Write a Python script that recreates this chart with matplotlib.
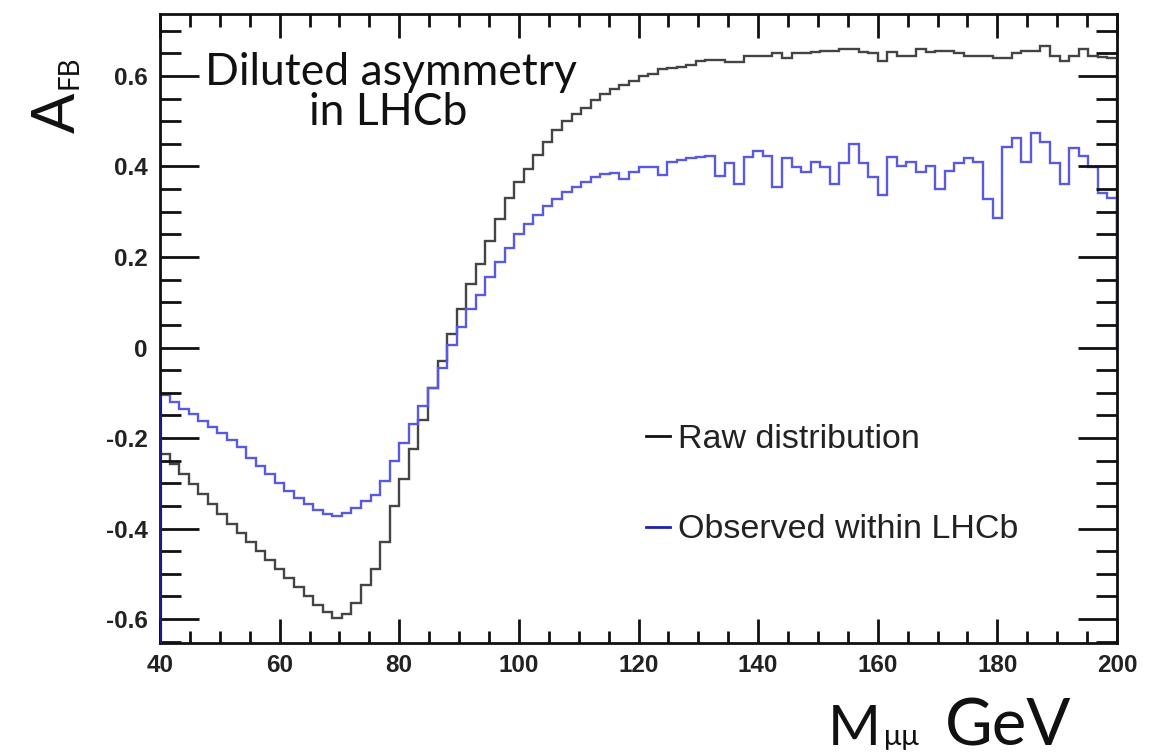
import numpy as np
import matplotlib
matplotlib.use("Agg")
import matplotlib.pyplot as plt
from matplotlib.ticker import MultipleLocator

# 100 bins of 1.6 GeV between 40 and 200 GeV
edges = np.linspace(40, 200, 101)

raw = [-0.235, -0.258, -0.280, -0.302, -0.324, -0.346, -0.368, -0.390, -0.410, -0.430,
       -0.450, -0.470, -0.490, -0.510, -0.530, -0.550, -0.568, -0.585, -0.597, -0.590,
       -0.565, -0.525, -0.490, -0.430, -0.350, -0.290, -0.225, -0.160, -0.090, -0.030,
       0.030, 0.085, 0.140, 0.185, 0.235, 0.285, 0.330, 0.365, 0.395, 0.425,
       0.455, 0.480, 0.500, 0.515, 0.530, 0.548, 0.560, 0.572, 0.580, 0.590,
       0.600, 0.605, 0.615, 0.617, 0.619, 0.625, 0.634, 0.636, 0.636, 0.632,
       0.632, 0.645, 0.645, 0.645, 0.650, 0.639, 0.650, 0.650, 0.652, 0.655,
       0.656, 0.660, 0.660, 0.652, 0.650, 0.634, 0.652, 0.645, 0.645, 0.660,
       0.652, 0.656, 0.656, 0.650, 0.645, 0.645, 0.645, 0.639, 0.639, 0.650,
       0.656, 0.656, 0.667, 0.645, 0.634, 0.645, 0.660, 0.645, 0.641, 0.639]

observed = [-0.106, -0.120, -0.135, -0.148, -0.162, -0.176, -0.190, -0.205, -0.220, -0.245,
            -0.262, -0.280, -0.300, -0.318, -0.332, -0.345, -0.358, -0.367, -0.372, -0.365,
            -0.355, -0.340, -0.325, -0.295, -0.250, -0.210, -0.170, -0.130, -0.090, -0.045,
            0.005, 0.045, 0.085, 0.115, 0.155, 0.190, 0.220, 0.250, 0.272, 0.293,
            0.312, 0.328, 0.343, 0.354, 0.365, 0.376, 0.384, 0.386, 0.373, 0.387,
            0.398, 0.398, 0.382, 0.409, 0.415, 0.418, 0.420, 0.424, 0.380, 0.407,
            0.362, 0.420, 0.435, 0.424, 0.354, 0.418, 0.398, 0.387, 0.409, 0.398,
            0.362, 0.407, 0.450, 0.407, 0.376, 0.336, 0.420, 0.402, 0.409, 0.387,
            0.402, 0.351, 0.391, 0.407, 0.418, 0.409, 0.329, 0.287, 0.442, 0.464,
            0.409, 0.473, 0.455, 0.407, 0.362, 0.440, 0.424, 0.398, 0.342, 0.331]

labels = ["Raw distribution", "Observed within LHCb"]

W, H = 1165, 756
fig = plt.figure(figsize=(W / 100, H / 100), dpi=100)
ax = fig.add_axes([160 / W, 1 - 643 / H, (1117 - 160) / W, (643 - 14) / H])

ylo, yhi = -0.653, 0.737
ax.stairs(raw, edges, color="#444444", lw=1.7, label=labels[0])
ax.stairs(observed, edges, color="#5a5ae0", lw=1.7, label=labels[1])
# left edge of the histogram goes down to the frame
ax.vlines(edges[0], ylo, observed[0], color="#1c1c80", lw=3, zorder=4)

ax.set_xlim(40, 200)
ax.set_ylim(ylo, yhi)

ax.xaxis.set_major_locator(MultipleLocator(20))
ax.xaxis.set_minor_locator(MultipleLocator(5))
ax.yaxis.set_major_locator(MultipleLocator(0.2))
ax.yaxis.set_minor_locator(MultipleLocator(0.05))
ax.tick_params(which="both", direction="in", top=True, right=True, width=2, color="#111111")
ax.tick_params(axis="y", which="major", length=28)
ax.tick_params(axis="y", which="minor", length=15)
ax.tick_params(axis="x", which="major", length=17)
ax.tick_params(axis="x", which="minor", length=9)
ax.tick_params(labelsize=17.5, labelcolor="#222222")
ax.tick_params(axis="x", pad=8)
ax.tick_params(axis="y", pad=9)
for lab in ax.get_xticklabels() + ax.get_yticklabels():
    lab.set_fontweight("bold")
    lab.set_fontfamily("Liberation Sans")
ax.yaxis.set_major_formatter(matplotlib.ticker.FuncFormatter(
    lambda v, p: "0" if abs(v) < 1e-9 else ("%.1f" % v)))
for s in ax.spines.values():
    s.set_linewidth(2)
    s.set_color("#111111")

leg = ax.legend(loc="upper left", bbox_to_anchor=(0.476, 0.397), frameon=False,
                handlelength=0.7, handletextpad=0.25, labelspacing=1.75,
                prop={"family": "Liberation Sans", "size": 24.5})
for t in leg.get_texts():
    t.set_color("#222222")
for h, c in zip(leg.legend_handles, ["#111111", "#2020b0"]):
    h.set_color(c)
    h.set_linewidth(2)

# annotation
fig.text(391 / W, 1 - 85 / H, "Diluted asymmetry", ha="center", va="baseline",
         family="Lato", fontsize=32, color="#111111")
fig.text(388 / W, 1 - 125 / H, "in LHCb", ha="center", va="baseline",
         family="Lato", fontsize=32, color="#111111")

# y label A_FB (rotated)
fig.text(75 / W, 1 - 133 / H, "A", rotation=90, rotation_mode="anchor",
         ha="left", va="baseline", family="Lato", fontsize=43, color="#111111")
fig.text(78 / W, 1 - 89 / H, "FB", rotation=90, rotation_mode="anchor",
         ha="left", va="baseline", family="Lato", fontsize=20, color="#111111")

# x label M_mumu GeV
fig.text(881 / W, 1 - 745 / H, "M", ha="right", va="baseline",
         family="Lato", fontsize=41, color="#111111")
fig.text(884 / W, 1 - 745 / H, "\u03bc\u03bc", ha="left", va="baseline",
         family="Lato", fontsize=21, color="#111111")
fig.text(945 / W, 1 - 745 / H, "GeV", ha="left", va="baseline",
         family="Lato", fontsize=47, color="#111111")

fig.savefig("out.png", dpi=100)
